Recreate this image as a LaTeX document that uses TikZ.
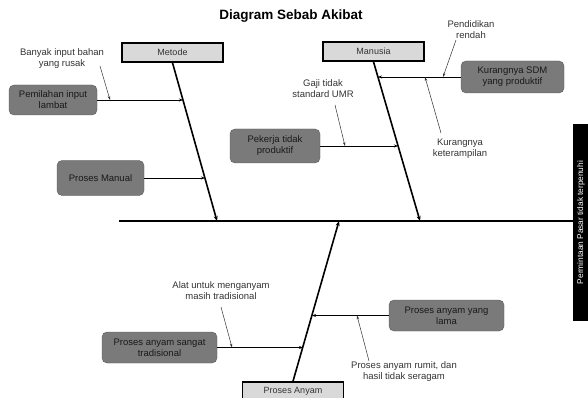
\documentclass[tikz,border=0pt]{standalone}
\usepackage{fontspec}
\setmainfont{Liberation Sans}
\usetikzlibrary{arrows.meta,calc}
\begin{document}
\begin{tikzpicture}[x=1pt,y=-1pt,
 cause/.style={draw=black!65,fill=black!52,rounded corners=5pt,align=center,font=\fontsize{9.5}{11}\selectfont,inner sep=0pt,text=black!90},
 cat/.style={draw=black,line width=1.6pt,fill=black!15,font=\fontsize{9}{10}\selectfont,minimum width=101pt,minimum height=19pt,inner sep=0pt,text=black!80},
 lbl/.style={align=center,font=\fontsize{9.5}{11}\selectfont,text=black!80},
 bone/.style={line width=1.6pt,-{Stealth[length=5pt,width=4pt]}},
 branch/.style={line width=0.8pt,-{Stealth[length=4pt,width=3pt]}},
 ptr/.style={line width=0.5pt,black!80,-{Stealth[length=4pt,width=2.5pt]}}]
\useasboundingbox (0,0) rectangle (588,398);

% title
\node[font=\fontsize{13.5}{15}\selectfont\bfseries] (title) at (291,16) {Diagram Sebab Akibat};

% effect box
\node[fill=black,text=white,rotate=90,minimum width=196pt,minimum height=16pt,inner sep=0pt,font=\fontsize{8.3}{9}\selectfont] (effect) at (581,222.5) {Permintaan Pasar tidak terpenuhi};

% spine
\coordinate (spL) at (119,221);
\draw[line width=1.4pt] (spL) -- (spL -| effect.north);

% categories
\node[cat] (metode) at (172.5,52.5) {Metode};
\node[cat] (manusia) at (373.5,51.5) {Manusia};
\node[cat] (anyam) at (293,391.5) {Proses Anyam};

\coordinate (mE) at (217,221);
\coordinate (nE) at (420,221);
\coordinate (aE) at (339,221);
\draw[bone] (metode.south) -- (mE);
\draw[bone] (manusia.south) -- (nE);
\draw[bone] (anyam.north) -- (aE);

% causes
\node[cause,minimum width=88pt,minimum height=30pt] (pemilahan) at (53,100) {Pemilahan input\\lambat};
\node[cause,minimum width=87pt,minimum height=35pt] (manual) at (100.5,178) {Proses Manual};
\node[cause,minimum width=90pt,minimum height=34pt] (pekerja) at (275,146) {Pekerja tidak\\produktif};
\node[cause,minimum width=103pt,minimum height=32pt] (sdm) at (512.5,77) {Kurangnya SDM\\yang produktif};
\node[cause,minimum width=115pt,minimum height=31pt] (tradisional) at (159.5,347.5) {Proses anyam sangat\\tradisional};
\node[cause,minimum width=115pt,minimum height=31pt] (lama) at (446.5,315.5) {Proses anyam yang\\lama};

% points on bones
\coordinate (b1) at (183,100);
\coordinate (b2) at (205,178);
\coordinate (b3) at (398,146);
\coordinate (b4) at (378,77);
\coordinate (b5) at (303,347.5);
\coordinate (b6) at (312,315.5);

\draw[branch] (pemilahan.east) -- (pemilahan.east -| b1);
\draw[branch] (manual.east) -- (manual.east -| b2);
\draw[branch] (pekerja.east) -- (pekerja.east -| b3);
\draw[branch] (sdm.west) -- (sdm.west -| b4);
\draw[branch] (tradisional.east) -- (tradisional.east -| b5);
\draw[branch] (lama.west) -- (lama.west -| b6);

% labels
\node[lbl] (l1) at (62,58.5) {Banyak input bahan\\yang rusak};
\node[lbl] (l2) at (323,89) {Gaji tidak\\standard UMR};
\node[lbl] (l3) at (471,30) {Pendidikan\\rendah};
\node[lbl] (l4) at (460,148.5) {Kurangnya\\keterampilan};
\node[lbl] (l5) at (221,291) {Alat untuk menganyam\\masih tradisional};
\node[lbl] (l6) at (404,372) {Proses anyam rumit, dan\\hasil tidak seragam};

\coordinate (s1) at (100,66);  \coordinate (e1) at (110,100);
\coordinate (s2) at (335,105); \coordinate (e2) at (345,146);
\coordinate (s3) at (456,40);  \coordinate (e3) at (443,77);
\coordinate (s4) at (441,133); \coordinate (e4) at (425,77);
\coordinate (s5) at (221,307); \coordinate (e5) at (232,347.5);
\coordinate (s6) at (369,361); \coordinate (e6) at (357,315.5);

\draw[ptr] (s1) -- (e1);
\draw[ptr] (s2) -- (e2);
\draw[ptr] (s3) -- (e3);
\draw[ptr] (s4) -- (e4);
\draw[ptr] (s5) -- (e5);
\draw[ptr] (s6) -- (e6);
\end{tikzpicture}
\end{document}
